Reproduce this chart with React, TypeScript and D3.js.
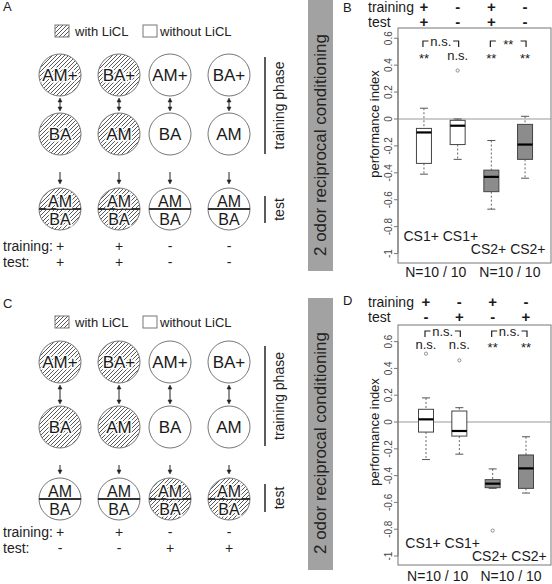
import React from "react";
import * as d3 from "d3";

const W = 552;
const H = 584;
const FONT = "'Liberation Sans', Arial, Helvetica, sans-serif";

// ---- schematic (panels A and C) ----
const trainingOdors = ["AM+", "BA+", "AM+", "BA+"];
const pairedOdors = ["BA", "AM", "BA", "AM"];
const testOdors = ["AM", "BA"];
const trainingLiCl = [true, true, false, false];
const testLiClA = [true, true, false, false];
const testLiClC = [false, false, true, true];
const trainingSignsA = ["+", "+", "-", "-"];
const testSignsA = ["+", "+", "-", "-"];
const trainingSignsC = ["+", "+", "-", "-"];
const testSignsC = ["-", "-", "+", "+"];
const legendLabels = ["with LiCL", "without LiCL"];
const sideTitle = "2 odor reciprocal conditioning";

// ---- box plots (panels B and D) ----
const groupLabels = ["CS1+", "CS1+", "CS2+", "CS2+"];
const trainingSignsB = ["+", "-", "+", "-"];
const testSignsB = ["+", "-", "+", "-"];
const trainingSignsD = ["+", "-", "+", "-"];
const testSignsD = ["-", "+", "-", "+"];
// [lower whisker, Q1, median, Q3, upper whisker]
const statsB: number[][] = [
  [-0.41, -0.33, -0.1, -0.07, 0.08],
  [-0.3, -0.19, -0.05, -0.01, 0.0],
  [-0.67, -0.54, -0.43, -0.38, -0.16],
  [-0.44, -0.3, -0.19, -0.04, 0.02],
];
const outliersB: number[][] = [[], [0.36], [], []];
const statsD: number[][] = [
  [-0.28, -0.075, 0.02, 0.095, 0.18],
  [-0.24, -0.105, -0.067, 0.082, 0.107],
  [-0.495, -0.49, -0.46, -0.43, -0.35],
  [-0.53, -0.495, -0.346, -0.246, -0.11],
];
const outliersD: number[][] = [[0.51], [0.46], [-0.81], []];
const signifB = ["**", "n.s.", "**", "**"];
const pairSignifB = ["n.s.", "**"];
const signifD = ["n.s.", "n.s.", "**", "**"];
const pairSignifD = ["n.s.", "n.s."];
const sampleSizes = ["N=10 / 10", "N=10 / 10"];
const yTicks = [-1, -0.8, -0.6, -0.4, -0.2, 0, 0.2, 0.4, 0.6];
const yTickLabels = ["-1", "-0.8", "-0.6", "-0.4", "-0.2", "0", "0.2", "0.4", "0.6"];

const colX = [60, 119, 170, 229];

function DoubleArrow({ x, y1, y2 }: { x: number; y1: number; y2: number }) {
  return (
    <g fill="#222" stroke="#222">
      <line x1={x} x2={x} y1={y1 + 3} y2={y2 - 3} strokeWidth={1} />
      <path d={`M${x - 2},${y1 + 4} L${x},${y1} L${x + 2},${y1 + 4} Z`} strokeWidth={0.5} />
      <path d={`M${x - 2},${y2 - 4} L${x},${y2} L${x + 2},${y2 - 4} Z`} strokeWidth={0.5} />
    </g>
  );
}

function DownArrow({ x, y1, y2 }: { x: number; y1: number; y2: number }) {
  return (
    <g fill="#222" stroke="#222">
      <line x1={x} x2={x} y1={y1} y2={y2 - 3} strokeWidth={1} />
      <path d={`M${x - 2},${y2 - 4} L${x},${y2} L${x + 2},${y2 - 4} Z`} strokeWidth={0.5} />
    </g>
  );
}

function Label({ x, y, text, size, halo }: { x: number; y: number; text: string; size: number; halo: boolean }) {
  return (
    <text
      x={x}
      y={y}
      dy="0.35em"
      textAnchor="middle"
      fontSize={size}
      fill="#1a1a1a"
      stroke={halo ? "#fff" : "none"}
      strokeWidth={halo ? 3 : 0}
      style={{ paintOrder: "stroke" }}
    >
      {text}
    </text>
  );
}

function Schematic(props: {
  letter: string;
  letterBase: number;
  legendY: number;
  rows: number[];
  testLiCl: boolean[];
  trainSigns: string[];
  testSigns: string[];
  signBase: number[];
  phaseLine: [number, number];
  testLine: [number, number];
}) {
  const { letter, letterBase, legendY, rows, testLiCl, trainSigns, testSigns, signBase, phaseLine, testLine } = props;
  const r = 21;
  const circ = (hatched: boolean) => ({
    fill: hatched ? "url(#hatch)" : "#fff",
    stroke: "#777",
    strokeWidth: 1,
  });
  return (
    <g fontFamily={FONT}>
      <text x={3} y={letterBase} fontSize={13} fill="#222">{letter}</text>
      {/* legend */}
      <rect x={55} y={legendY - 6} width={14} height={12} fill="url(#hatch)" stroke="#777" />
      <text x={75} y={legendY + 5} fontSize={13} fill="#222">{legendLabels[0]}</text>
      <rect x={143} y={legendY - 6} width={14} height={12} fill="#fff" stroke="#777" />
      <text x={160} y={legendY + 5} fontSize={13} fill="#222">{legendLabels[1]}</text>

      {colX.map((cx, i) => (
        <g key={i}>
          <circle cx={cx} cy={rows[0]} r={r} {...circ(trainingLiCl[i])} />
          <Label x={cx} y={rows[0]} text={trainingOdors[i]} size={17} halo={trainingLiCl[i]} />
          <DoubleArrow x={cx} y1={rows[0] + r + 2} y2={rows[1] - r - 2} />
          <circle cx={cx} cy={rows[1]} r={r} {...circ(trainingLiCl[i])} />
          <Label x={cx} y={rows[1]} text={pairedOdors[i]} size={17} halo={trainingLiCl[i]} />
          <DownArrow x={cx} y1={rows[1] + r + 17} y2={rows[2] - r - 4} />
          <circle cx={cx} cy={rows[2]} r={r} {...circ(testLiCl[i])} />
          <line x1={cx - r} x2={cx + r} y1={rows[2]} y2={rows[2]} stroke="#333" strokeWidth={1.8} />
          <Label x={cx} y={rows[2] - 8} text={testOdors[0]} size={16} halo={testLiCl[i]} />
          <Label x={cx} y={rows[2] + 10} text={testOdors[1]} size={16} halo={testLiCl[i]} />
          <text x={cx} y={signBase[0]} textAnchor="middle" fontSize={14} fill="#222">{trainSigns[i]}</text>
          <text x={cx} y={signBase[1]} textAnchor="middle" fontSize={14} fill="#222">{testSigns[i]}</text>
        </g>
      ))}
      <text x={3} y={signBase[0]} fontSize={14} fill="#222">training:</text>
      <text x={3} y={signBase[1]} fontSize={14} fill="#222">test:</text>

      <line x1={265} x2={265} y1={phaseLine[0]} y2={phaseLine[1]} stroke="#333" strokeWidth={1.6} />
      <text
        transform={`translate(279,${(phaseLine[0] + phaseLine[1]) / 2}) rotate(-90)`}
        dy="0.35em"
        textAnchor="middle"
        fontSize={14}
        fill="#222"
      >
        training phase
      </text>
      <line x1={265} x2={265} y1={testLine[0]} y2={testLine[1]} stroke="#333" strokeWidth={1.6} />
      <text
        transform={`translate(279,${(testLine[0] + testLine[1]) / 2}) rotate(-90)`}
        dy="0.35em"
        textAnchor="middle"
        fontSize={14}
        fill="#222"
      >
        test
      </text>
    </g>
  );
}

type Lay = {
  letterBase: number;
  trainBase: number;
  testBase: number;
  bracketTop: number;
  pairBase: number;
  rowBase: number;
  cs1Base: number;
  cs2Base: number;
  nBase: number;
  ylabY: number;
};

function BoxPanel(props: {
  letter: string;
  frame: { x0: number; x1: number; y0: number; y1: number };
  yDomain: [number, number];
  xDomain: [number, number];
  stats: number[][];
  outliers: number[][];
  trainSigns: string[];
  testSigns: string[];
  signif: string[];
  pairSignif: string[];
  lay: Lay;
}) {
  const { letter, frame, yDomain, xDomain, stats, outliers, trainSigns, testSigns, signif, pairSignif, lay } = props;
  const y = d3.scaleLinear().domain(yDomain).range([frame.y1, frame.y0]);
  const x = d3.scaleLinear().domain(xDomain).range([frame.x0, frame.x1]);
  const hw = 7.5;
  const cap = 4;
  const starShift = 3.5;
  return (
    <g fontFamily={FONT} fill="#1a1a1a">
      <text x={343} y={lay.letterBase} fontSize={13}>{letter}</text>
      <text x={368} y={lay.trainBase} fontSize={14}>training</text>
      <text x={368} y={lay.testBase} fontSize={14}>test</text>
      {trainSigns.map((s, i) => (
        <text key={"tr" + i} x={x(i + 1)} y={lay.trainBase} textAnchor="middle" fontSize={15} fontWeight="bold">{s}</text>
      ))}
      {testSigns.map((s, i) => (
        <text key={"te" + i} x={x(i + 1)} y={lay.testBase} textAnchor="middle" fontSize={15} fontWeight="bold">{s}</text>
      ))}

      {/* plot frame and zero reference */}
      <rect x={frame.x0} y={frame.y0} width={frame.x1 - frame.x0} height={frame.y1 - frame.y0} fill="none" stroke="#777" />
      <line x1={frame.x0} x2={frame.x1} y1={y(0)} y2={y(0)} stroke="#999" strokeWidth={1.2} />

      {/* y axis */}
      <line x1={frame.x0} x2={frame.x0} y1={y(yTicks[0])} y2={y(yTicks[yTicks.length - 1])} stroke="#777" />
      {yTicks.map((t, i) => (
        <g key={"t" + i}>
          <line x1={frame.x0 - 4} x2={frame.x0} y1={y(t)} y2={y(t)} stroke="#777" />
          <text
            transform={`translate(388.5,${y(t)}) rotate(-90)`}
            dy="0.35em"
            textAnchor="middle"
            fontSize={10}
            fill="#444"
          >
            {yTickLabels[i]}
          </text>
        </g>
      ))}
      <text transform={`translate(374,${lay.ylabY}) rotate(-90)`} dy="0.35em" textAnchor="middle" fontSize={13}>
        performance index
      </text>

      {/* boxes */}
      {stats.map((s, i) => {
        const cx = x(i + 1);
        const gray = i >= 2;
        const [lo, q1, med, q3, hi] = s;
        return (
          <g key={"b" + i}>
            <line x1={cx} x2={cx} y1={y(hi)} y2={y(q3)} stroke="#666" strokeDasharray="2,2" />
            <line x1={cx} x2={cx} y1={y(q1)} y2={y(lo)} stroke="#666" strokeDasharray="2,2" />
            <line x1={cx - cap} x2={cx + cap} y1={y(hi)} y2={y(hi)} stroke="#555" />
            <line x1={cx - cap} x2={cx + cap} y1={y(lo)} y2={y(lo)} stroke="#555" />
            <rect
              x={cx - hw}
              y={y(q3)}
              width={hw * 2}
              height={y(q1) - y(q3)}
              fill={gray ? "#8c8c8c" : "#fff"}
              stroke="#444"
            />
            <line x1={cx - hw} x2={cx + hw} y1={y(med)} y2={y(med)} stroke="#000" strokeWidth={2.2} />
            {outliers[i].map((o, j) => (
              <circle key={j} cx={cx} cy={y(o)} r={1.6} fill="none" stroke="#777" strokeWidth={0.8} />
            ))}
          </g>
        );
      })}

      {/* pairwise comparisons */}
      {pairSignif.map((s, k) => {
        const xl = x(2 * k + 1) - 1;
        const xr = x(2 * k + 2) + 1;
        const top = lay.bracketTop;
        return (
          <g key={"p" + k}>
            <path d={`M${xl},${top + 6} V${top} H${xl + 5.5}`} fill="none" stroke="#222" strokeWidth={1.2} />
            <path d={`M${xr - 5.5},${top} H${xr} V${top + 6}`} fill="none" stroke="#222" strokeWidth={1.2} />
            <text
              x={(xl + xr) / 2}
              y={lay.pairBase + (s === "**" ? starShift : 0)}
              textAnchor="middle"
              fontSize={13}
            >
              {s}
            </text>
          </g>
        );
      })}
      {signif.map((s, i) => (
        <text
          key={"s" + i}
          x={x(i + 1)}
          y={lay.rowBase + (s === "**" ? starShift : 0)}
          textAnchor="middle"
          fontSize={13}
        >
          {s}
        </text>
      ))}

      <text x={x(1.5)} y={lay.cs1Base} textAnchor="middle" fontSize={14}>{`${groupLabels[0]} ${groupLabels[1]}`}</text>
      <text x={x(3.5)} y={lay.cs2Base} textAnchor="middle" fontSize={14}>{`${groupLabels[2]} ${groupLabels[3]}`}</text>
      <text x={x(1.35)} y={lay.nBase} textAnchor="middle" fontSize={14}>{sampleSizes[0]}</text>
      <text x={x(3.55)} y={lay.nBase} textAnchor="middle" fontSize={14}>{sampleSizes[1]}</text>
    </g>
  );
}

function SideBand({ y0, y1, textY }: { y0: number; y1: number; textY: number }) {
  return (
    <g fontFamily={FONT}>
      <rect x={308} y={y0} width={25} height={y1 - y0} fill="#a2a2a2" />
      <text transform={`translate(320.5,${textY}) rotate(-90)`} dy="0.35em" textAnchor="middle" fontSize={17} fill="#222">
        {sideTitle}
      </text>
    </g>
  );
}

export default function App() {
  return (
    <svg
      width={W}
      height={H}
      viewBox={`0 0 ${W} ${H}`}
      style={{ position: "absolute", left: 0, top: 0, background: "#fff" }}
    >
      <defs>
        <pattern id="hatch" patternUnits="userSpaceOnUse" width={4} height={4}>
          <rect width={4} height={4} fill="#fff" />
          <path d="M-1,1 l2,-2 M0,4 l4,-4 M3,5 l2,-2" stroke="#3a3a3a" strokeWidth={0.85} />
        </pattern>
      </defs>

      <Schematic
        letter="A"
        letterBase={11}
        legendY={31}
        rows={[75, 134, 209]}
        testLiCl={testLiClA}
        trainSigns={trainingSignsA}
        testSigns={testSignsA}
        signBase={[251, 267]}
        phaseLine={[57, 154]}
        testLine={[196, 223]}
      />
      <Schematic
        letter="C"
        letterBase={308}
        legendY={322}
        rows={[362, 427, 499]}
        testLiCl={testLiClC}
        trainSigns={trainingSignsC}
        testSigns={testSignsC}
        signBase={[537, 553]}
        phaseLine={[346, 446]}
        testLine={[484, 512]}
      />

      <SideBand y0={0} y1={271} textY={145} />
      <SideBand y0={298} y1={570} textY={443} />

      <BoxPanel
        letter="B"
        frame={{ x0: 398, x1: 551, y0: 28, y1: 263 }}
        yDomain={[-1.07, 0.676]}
        xDomain={[0.23, 4.77]}
        stats={statsB}
        outliers={outliersB}
        trainSigns={trainingSignsB}
        testSigns={testSignsB}
        signif={signifB}
        pairSignif={pairSignifB}
        lay={{
          letterBase: 12,
          trainBase: 12,
          testBase: 27,
          bracketTop: 41,
          pairBase: 45.5,
          rowBase: 59.5,
          cs1Base: 241,
          cs2Base: 254,
          nBase: 277,
          ylabY: 124,
        }}
      />
      <BoxPanel
        letter="D"
        frame={{ x0: 398, x1: 551, y0: 325, y1: 565 }}
        yDomain={[-1.067, 0.724]}
        xDomain={[0.16, 4.75]}
        stats={statsD}
        outliers={outliersD}
        trainSigns={trainingSignsD}
        testSigns={testSignsD}
        signif={signifD}
        pairSignif={pairSignifD}
        lay={{
          letterBase: 305,
          trainBase: 306.5,
          testBase: 322,
          bracketTop: 331,
          pairBase: 336,
          rowBase: 348.5,
          cs1Base: 548,
          cs2Base: 561,
          nBase: 581,
          ylabY: 432,
        }}
      />
    </svg>
  );
}
